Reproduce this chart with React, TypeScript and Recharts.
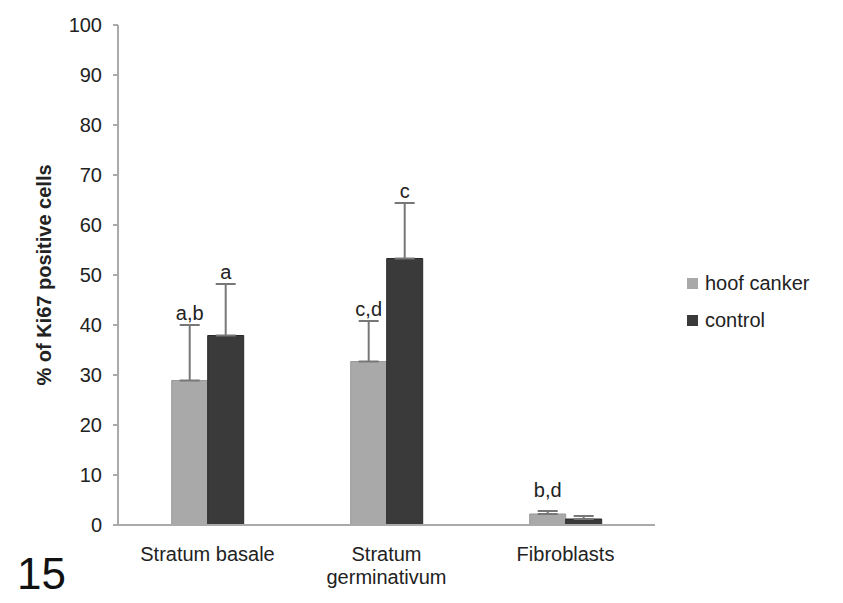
import React from "react";
import {
  BarChart,
  Bar,
  XAxis,
  YAxis,
  ErrorBar,
  LabelList,
  Legend,
  Text,
} from "recharts";

const categories = ["Stratum basale", "Stratum germinativum", "Fibroblasts"];
const hoofCanker = [28.9, 32.7, 2.2];
const hoofCankerErr = [11.1, 8.1, 0.6];
const control = [37.9, 53.3, 1.2];
const controlErr = [10.3, 11.1, 0.6];
const hoofLetters = ["a,b", "c,d", "b,d"];
const controlLetters = ["a", "c", ""];
const yTicks = [0, 10, 20, 30, 40, 50, 60, 70, 80, 90, 100];

const data = categories.map((name, i) => ({
  name,
  hoof: hoofCanker[i],
  hoofErr: hoofCankerErr[i],
  hoofLetter: hoofLetters[i],
  ctrl: control[i],
  ctrlErr: controlErr[i],
  ctrlLetter: controlLetters[i],
}));

const FONT = "'Liberation Sans', Arial, sans-serif";
const LIGHT = "#a9a9a9";
const DARK = "#3a3a3a";

// letter above the error bar, using the bar's own pixel scale
const letterLabel = (values: number[], errs: number[]) => (props: any) => {
  const vb = props.viewBox || props;
  const { x, y, width, height } = vb;
  const i = props.index;
  const text = props.value;
  if (!text || i === undefined) return null;
  const pxPerUnit = height / values[i];
  const errTop = y - errs[i] * pxPerUnit;
  const baseY = Math.min(errTop - 5, y + height - 28);
  return (
    <text x={x + width / 2} y={baseY} textAnchor="middle" fontSize={20} fontFamily={FONT} fill="#222">
      {text}
    </text>
  );
};

const CategoryTick = (props: any) => {
  const { x, y, payload } = props;
  return (
    <Text x={x} y={y + 14} width={150} textAnchor="middle" verticalAnchor="start" lineHeight={23}
      style={{ fontSize: 20, fontFamily: FONT }} fill="#222">
      {payload.value}
    </Text>
  );
};

const legendItems = [
  { label: "hoof canker", color: LIGHT },
  { label: "control", color: DARK },
];

const ChartLegend = () => (
  <div style={{ fontFamily: FONT, fontSize: 20, color: "#222" }}>
    {legendItems.map((it) => (
      <div key={it.label} style={{ display: "flex", alignItems: "center", height: 37 }}>
        <span style={{ width: 11, height: 11, background: it.color, marginRight: 7, display: "inline-block" }} />
        {it.label}
      </div>
    ))}
  </div>
);

const YLabel = (props: any) => {
  const { x, y, height } = props.viewBox;
  const cx = x + 51;
  const cy = y + height / 2;
  return (
    <text x={cx} y={cy} transform={`rotate(-90, ${cx}, ${cy})`} textAnchor="middle"
      fontSize={20} fontWeight="bold" fontFamily={FONT} fill="#222">
      % of Ki67 positive cells
    </text>
  );
};

export default function App() {
  return (
    <div style={{ position: "absolute", left: 0, top: 0, width: 843, height: 603, background: "#fff" }}>
      <BarChart width={843} height={603} data={data} barGap={0} barCategoryGap="30%"
        margin={{ top: 25, right: 188, left: 0, bottom: 0 }}>
        <XAxis dataKey="name" height={78} tickLine={false} axisLine={{ stroke: "#aaa", strokeWidth: 2 }}
          tick={<CategoryTick />} interval={0} />
        <YAxis width={118} domain={[0, 100]} ticks={yTicks} interval={0} tickSize={5} tickMargin={11}
          axisLine={{ stroke: "#aaa", strokeWidth: 2 }} tickLine={{ stroke: "#aaa", strokeWidth: 2 }}
          tick={{ fontSize: 20, fontFamily: FONT, fill: "#222" }} label={<YLabel />} />
        <Legend layout="vertical" align="center" verticalAlign="middle" width={160}
          wrapperStyle={{ left: 687, top: 265 }} content={<ChartLegend />} />
        <Bar dataKey="hoof" name="hoof canker" fill={LIGHT} stroke="#999" isAnimationActive={false}>
          <ErrorBar dataKey={(d: any) => [0, d.hoofErr]} width={10} stroke="#777" strokeWidth={2} direction="y" />
          <LabelList dataKey="hoofLetter" content={letterLabel(hoofCanker, hoofCankerErr)} />
        </Bar>
        <Bar dataKey="ctrl" name="control" fill={DARK} stroke="#2a2a2a" isAnimationActive={false}>
          <ErrorBar dataKey={(d: any) => [0, d.ctrlErr]} width={10} stroke="#777" strokeWidth={2} direction="y" />
          <LabelList dataKey="ctrlLetter" content={letterLabel(control, controlErr)} />
        </Bar>
      </BarChart>
      <div style={{ position: "absolute", left: 17, top: 549, fontFamily: FONT, fontSize: 44, color: "#111" }}>
        15
      </div>
    </div>
  );
}
